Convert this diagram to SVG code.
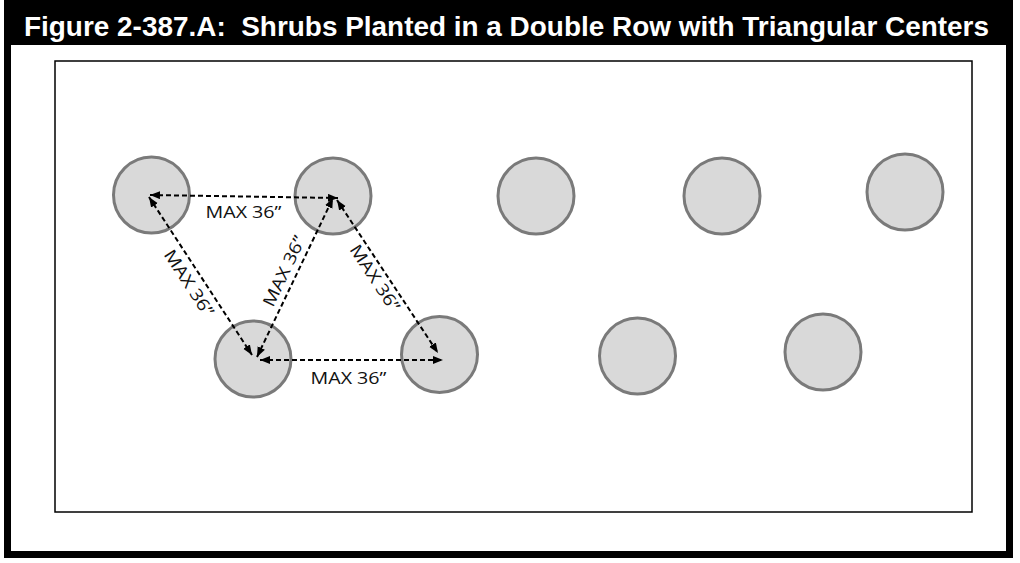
<svg xmlns="http://www.w3.org/2000/svg" width="1020" height="563" viewBox="0 0 1020 563">
<style>
.shrub{fill:#d9d9d9;stroke:#7a7a7a;stroke-width:3}
.dim{fill:none;stroke:#000;stroke-width:2;stroke-dasharray:5 3;marker-start:url(#ah);marker-end:url(#ah)}
.lbl{font-family:"Open Sans","Liberation Sans",sans-serif;font-size:17px;fill:#111}
.title{font-family:"Liberation Sans",Arial,sans-serif;font-weight:bold;font-size:27px;fill:#fff}
</style>
<defs>
<marker id="ah" markerUnits="userSpaceOnUse" markerWidth="11" markerHeight="9" refX="10" refY="4" orient="auto-start-reverse">
<path d="M0,0 L10,4 L0,8 z" fill="#000"/>
</marker>
</defs>
<rect x="0" y="0" width="1020" height="563" fill="#fff"/>
<g id="frame">
<rect x="7.5" y="3.5" width="1002" height="551" fill="none" stroke="#000" stroke-width="7"/>
<rect x="4" y="0" width="1009" height="45" fill="#000"/>
<text class="title" x="24" y="36" textLength="965" lengthAdjust="spacingAndGlyphs" xml:space="preserve">Figure 2-387.A:  Shrubs Planted in a Double Row with Triangular Centers</text>
<rect x="55" y="61" width="917" height="451" fill="none" stroke="#000" stroke-width="1.5"/>
</g>
<g id="shrub1"><circle class="shrub" cx="151.5" cy="195" r="38"/></g>
<g id="shrub2"><circle class="shrub" cx="333" cy="196" r="38"/></g>
<g id="shrub3"><circle class="shrub" cx="536" cy="196" r="38"/></g>
<g id="shrub4"><circle class="shrub" cx="722" cy="196" r="38"/></g>
<g id="shrub5"><circle class="shrub" cx="905" cy="192" r="38"/></g>
<g id="shrub6"><circle class="shrub" cx="253" cy="359" r="38"/></g>
<g id="shrub7"><circle class="shrub" cx="439.5" cy="354.5" r="38"/></g>
<g id="shrub8"><circle class="shrub" cx="637.5" cy="356" r="38"/></g>
<g id="shrub9"><circle class="shrub" cx="823" cy="352" r="38"/></g>
<g id="connectors">
<line class="dim" x1="150" y1="195" x2="338" y2="198"/>
<line class="dim" x1="149" y1="197" x2="252" y2="355"/>
<line class="dim" x1="257" y1="357" x2="333" y2="198"/>
<line class="dim" x1="337" y1="200" x2="438" y2="353"/>
<line class="dim" x1="260" y1="360" x2="443" y2="360"/>
</g>
<g id="labels">
<text class="lbl" x="243.5" y="218" text-anchor="middle" textLength="76" lengthAdjust="spacingAndGlyphs">MAX 36”</text>
<text class="lbl" x="348.5" y="384" text-anchor="middle" textLength="76" lengthAdjust="spacingAndGlyphs">MAX 36”</text>
<text class="lbl" transform="translate(189,283) rotate(56.9)" x="0" y="6" text-anchor="middle" textLength="76" lengthAdjust="spacingAndGlyphs">MAX 36”</text>
<text class="lbl" transform="translate(284,271) rotate(-64.5)" x="0" y="6" text-anchor="middle" textLength="76" lengthAdjust="spacingAndGlyphs">MAX 36”</text>
<text class="lbl" transform="translate(375,278) rotate(56.6)" x="0" y="6" text-anchor="middle" textLength="76" lengthAdjust="spacingAndGlyphs">MAX 36”</text>
</g>
</svg>
